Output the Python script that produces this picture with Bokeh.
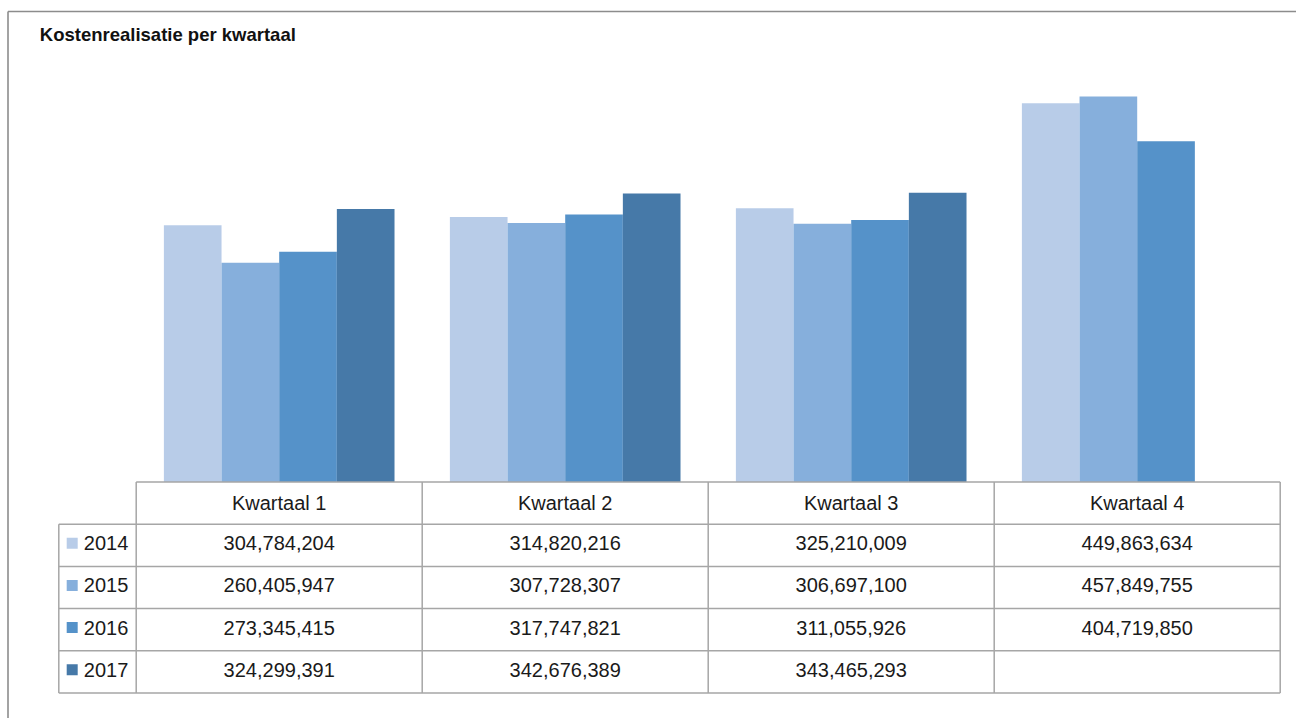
from bokeh.plotting import figure
from bokeh.models import Range1d
from bokeh.core.properties import value
from bokeh.embed import file_html
from bokeh.resources import INLINE

# ---- data ----
title = "Kostenrealisatie per kwartaal"
quarters = ["Kwartaal 1", "Kwartaal 2", "Kwartaal 3", "Kwartaal 4"]
years = ["2014", "2015", "2016", "2017"]
v2014 = [304784204, 314820216, 325210009, 449863634]
v2015 = [260405947, 307728307, 306697100, 457849755]
v2016 = [273345415, 317747821, 311055926, 404719850]
v2017 = [324299391, 342676389, 343465293, None]
series = [v2014, v2015, v2016, v2017]
colors = ["#B8CCE8", "#86AFDC", "#5592C9", "#4679A8"]

# ---- layout constants (pixels inside the figure) ----
W, H = 1296, 718
COL_PX = 286.0
X0_PX = 135.7
BASE_PX = 481.5
PX_PER_UNIT = 0.842 / 1e6
ROW_PX = 42.2
FONT = value("Liberation Sans")
GRID = "#A6A6A6"
TXT = "#1a1a1a"

xr = Range1d(-X0_PX / COL_PX, (W - X0_PX) / COL_PX)
yr = Range1d(-(H - BASE_PX) / PX_PER_UNIT, BASE_PX / PX_PER_UNIT)

p = figure(width=W, height=H, x_range=xr, y_range=yr,
           output_backend="svg", toolbar_location=None,
           x_axis_location=None, y_axis_location=None,
           min_border=0, outline_line_color=None,
           background_fill_color="white", border_fill_color="white")
p.grid.visible = False
p.extra_y_ranges = {"tbl": Range1d(-(H - BASE_PX) / ROW_PX, BASE_PX / ROW_PX)}

# bars
n = len(series)
bw = 0.2016
off = (1 - n * bw) / 2
for i, vals in enumerate(series):
    xs = [q + off + bw * i + bw / 2 for q in range(len(quarters)) if vals[q] is not None]
    tops = [v for v in vals if v is not None]
    p.vbar(x=xs, top=tops, bottom=0, width=bw, fill_color=colors[i],
           line_color=None)

# table grid
leg_left = (58.3 - X0_PX) / COL_PX
nq = len(quarters)
nrows = len(years) + 1
hx0, hx1, hy0, hy1 = [0], [nq], [0], [0]
for r in range(1, nrows + 1):
    hx0.append(leg_left); hx1.append(nq); hy0.append(-r); hy1.append(-r)
p.segment(x0=hx0, y0=hy0, x1=hx1, y1=hy1, line_color=GRID, line_width=1.5,
          y_range_name="tbl")
vx, vy0, vy1 = [], [], []
for c in range(nq + 1):
    vx.append(c); vy0.append(0); vy1.append(-nrows)
vx.append(leg_left); vy0.append(-1); vy1.append(-nrows)
p.segment(x0=vx, y0=vy0, x1=vx, y1=vy1, line_color=GRID, line_width=1.5,
          y_range_name="tbl")

# header text
p.text(x=[q + 0.5 for q in range(nq)], y=[-0.5] * nq, text=quarters,
       text_font=FONT, text_font_size="20px", text_color=TXT,
       text_align="center", text_baseline="middle", y_range_name="tbl")

# values
for i, vals in enumerate(series):
    xs = [q + 0.5 for q in range(nq) if vals[q] is not None]
    txt = [f"{v:,}" for v in vals if v is not None]
    p.text(x=xs, y=[-(i + 1.45)] * len(xs), text=txt, text_font=FONT,
           text_font_size="20px", text_color=TXT, text_align="center",
           text_baseline="middle", y_range_name="tbl")

# legend keys + year labels
key_x = (71.7 - X0_PX) / COL_PX
lab_x = (83.3 - X0_PX) / COL_PX
p.scatter(x=[key_x] * n, y=[-(i + 1.45) for i in range(n)], marker="square",
          size=11, fill_color=colors, line_color=None, y_range_name="tbl")
p.text(x=[lab_x] * n, y=[-(i + 1.45) for i in range(n)], text=years,
       text_font=FONT, text_font_size="20px", text_color=TXT,
       text_align="left", text_baseline="middle", y_range_name="tbl")

# title
p.text(x=[(39.3 - X0_PX) / COL_PX], y=[(BASE_PX - 33.5) / ROW_PX], text=[title],
       text_font=FONT, text_font_size="18.5px", text_font_style="bold",
       text_color="#111111", text_align="left", text_baseline="middle",
       y_range_name="tbl")

# frame (left and top edges; the rest lies beyond the view)
fx = (7.5 - X0_PX) / COL_PX
fy = (BASE_PX - 11.0) / ROW_PX
p.segment(x0=[fx, fx], y0=[fy, -(H - BASE_PX) / ROW_PX], x1=[xr.end, fx], y1=[fy, fy],
          line_color="#8C8C8C", line_width=1.6, y_range_name="tbl")

open("out.html", "w").write(file_html(p, INLINE))
